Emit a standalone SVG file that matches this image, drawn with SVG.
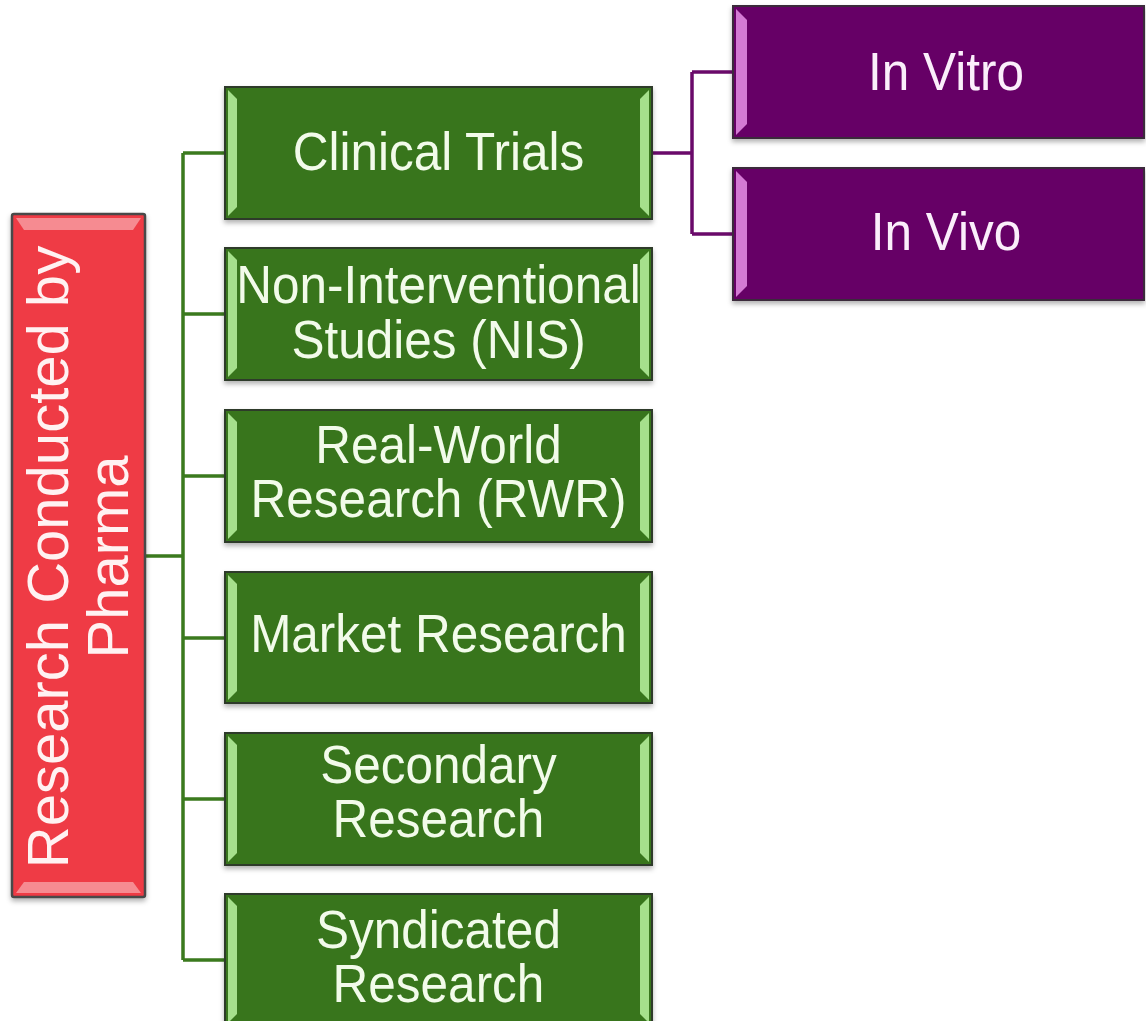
<svg xmlns="http://www.w3.org/2000/svg" width="1146" height="1021" viewBox="0 0 1146 1021">
<defs>
  <filter id="sh" x="-5%" y="-5%" width="110%" height="115%">
    <feDropShadow dx="0" dy="3" stdDeviation="2.5" flood-color="#000" flood-opacity="0.3"/>
  </filter>
</defs>
<style>
  .gbox { fill: #38741e; stroke: #2e3a2a; stroke-width: 2; }
  .pbox { fill: #660066; stroke: #3a2a3a; stroke-width: 2; }
  .rbox { fill: #ef3a45; stroke: #4a4a4a; stroke-width: 2.5; }
  .gbev { fill: #a6e08c; }
  .pbev { fill: #d47ad4; }
  .rbev { fill: #f7a0a4; }
  .gtxt { font-family: "Liberation Sans", Arial, sans-serif; font-size: 49.5px; fill: #f2fbea; text-anchor: middle; }
  .ptxt { font-family: "Liberation Sans", Arial, sans-serif; font-size: 49.5px; fill: #fbeefb; text-anchor: middle; }
  .rtxt { font-family: "Liberation Sans", Arial, sans-serif; font-size: 58px; fill: #fff2f2; text-anchor: middle; }
  .cg { stroke: #3b7a1e; stroke-width: 3.5; fill: none; }
  .cp { stroke: #6a0a6a; stroke-width: 3.5; fill: none; }
</style>

<g id="connectors">
  <path class="cg" d="M145 556 H183 M183 153 V960 M183 153 H225 M183 314 H225 M183 476 H225 M183 638 H225 M183 799 H225 M183 960 H225"/>
  <path class="cp" d="M652 153 H692 M692 72 V234 M692 72 H733 M692 234 H733"/>
</g>

<g id="root">
  <rect class="rbox" x="12" y="214" width="133" height="683" rx="2" filter="url(#sh)"/>
  <polygon class="rbev" points="16,218 141,218 133,230 24,230" opacity="0.8"/>
  <polygon class="rbev" points="24,882 133,882 141,893 16,893" opacity="0.8"/>
  <g transform="translate(0,557) rotate(-90)">
    <text class="rtxt" x="0" y="68">Research Conducted by</text>
    <text class="rtxt" x="0" y="128">Pharma</text>
  </g>
</g>

<g id="clinical-trials">
  <rect class="gbox" x="225" y="87" width="427" height="132" filter="url(#sh)"/>
  <polygon class="gbev" points="228,90 237,99 237,207 228,216"/>
  <polygon class="gbev" points="649,90 640,99 640,207 649,216"/>
  <text class="gtxt" transform="translate(438.5,170) scale(1,1.1)">Clinical Trials</text>
</g>

<g id="nis">
  <rect class="gbox" x="225" y="248" width="427" height="132" filter="url(#sh)"/>
  <polygon class="gbev" points="228,251 237,260 237,368 228,377"/>
  <polygon class="gbev" points="649,251 640,260 640,368 649,377"/>
  <text class="gtxt" transform="translate(438.5,303) scale(1,1.1)"><tspan x="0" y="0">Non-Interventional</tspan><tspan x="0" y="50">Studies (NIS)</tspan></text>
</g>

<g id="rwr">
  <rect class="gbox" x="225" y="410" width="427" height="132" filter="url(#sh)"/>
  <polygon class="gbev" points="228,413 237,422 237,530 228,539"/>
  <polygon class="gbev" points="649,413 640,422 640,530 649,539"/>
  <text class="gtxt" transform="translate(438.5,463) scale(1,1.1)"><tspan x="0" y="0">Real-World</tspan><tspan x="0" y="49">Research (RWR)</tspan></text>
</g>

<g id="market-research">
  <rect class="gbox" x="225" y="572" width="427" height="131" filter="url(#sh)"/>
  <polygon class="gbev" points="228,575 237,584 237,691 228,700"/>
  <polygon class="gbev" points="649,575 640,584 640,691 649,700"/>
  <text class="gtxt" transform="translate(438.5,652) scale(1,1.1)">Market Research</text>
</g>

<g id="secondary-research">
  <rect class="gbox" x="225" y="733" width="427" height="132" filter="url(#sh)"/>
  <polygon class="gbev" points="228,736 237,745 237,853 228,862"/>
  <polygon class="gbev" points="649,736 640,745 640,853 649,862"/>
  <text class="gtxt" transform="translate(438.5,783) scale(1,1.1)"><tspan x="0" y="0">Secondary</tspan><tspan x="0" y="49">Research</tspan></text>
</g>

<g id="syndicated-research">
  <rect class="gbox" x="225" y="894" width="427" height="132" filter="url(#sh)"/>
  <polygon class="gbev" points="228,897 237,906 237,1014 228,1023"/>
  <polygon class="gbev" points="649,897 640,906 640,1014 649,1023"/>
  <text class="gtxt" transform="translate(438.5,948) scale(1,1.1)"><tspan x="0" y="0">Syndicated</tspan><tspan x="0" y="49">Research</tspan></text>
</g>

<g id="in-vitro">
  <rect class="pbox" x="733" y="6" width="411" height="132" filter="url(#sh)"/>
  <polygon class="pbev" points="736,9 747,20 747,124 736,135"/>
  <text class="ptxt" transform="translate(946,90) scale(1,1.1)">In Vitro</text>
</g>

<g id="in-vivo">
  <rect class="pbox" x="733" y="168" width="411" height="132" filter="url(#sh)"/>
  <polygon class="pbev" points="736,171 747,182 747,286 736,297"/>
  <text class="ptxt" transform="translate(946,250) scale(1,1.1)">In Vivo</text>
</g>
</svg>
